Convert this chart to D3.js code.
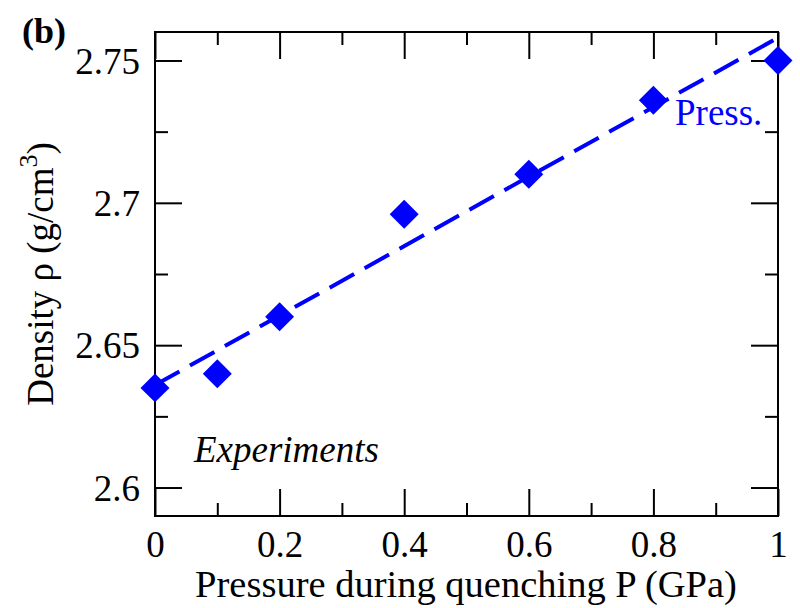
<!DOCTYPE html>
<html>
<head>
<meta charset="utf-8">
<script src="https://cdn.jsdelivr.net/npm/d3@7"></script>
<style>
  html, body { margin: 0; padding: 0; background: #fff; }
  svg text { font-family: "Liberation Serif", "Times New Roman", serif; }
</style>
</head>
<body>
<svg id="chart" width="800" height="608"></svg>
<script>
// Density of glass vs. pressure applied during quenching
const pressure = [0, 0.1, 0.2, 0.4, 0.6, 0.8, 1.0];
const density  = [2.635, 2.640, 2.660, 2.696, 2.710, 2.736, 2.750];
// linear fit end points
const fitP   = [0, 1];
const fitRho = [2.636, 2.758];

const xMajor = [0, 0.2, 0.4, 0.6, 0.8, 1];
const xMinor = [0.1, 0.3, 0.5, 0.7, 0.9];
const yMajor = [2.6, 2.65, 2.7, 2.75];
const yMinor = [2.625, 2.675, 2.725];

const svg = d3.select("#chart");
const L = 155, R = 778, T = 32, B = 516;

const x = d3.scaleLinear().domain([0, 1]).range([L, R]);
const y = d3.scaleLinear().domain([2.59, 2.76]).range([B, T]);

const fmtX = d => String(d);
const fmtY = d => String(+d.toFixed(2));

const majorLen = 27, minorLen = 13;

function addAxis(axis, tr) {
  const g = svg.append("g").attr("transform", tr).call(axis);
  g.select(".domain").remove();
  g.selectAll("line").attr("stroke", "#000").attr("stroke-width", 2);
  g.selectAll("text").attr("fill", "#000").style("font-size", "37px");
  return g;
}

// bottom axis
const gb = addAxis(d3.axisBottom(x).tickValues(xMajor).tickSize(-majorLen).tickFormat(fmtX),
        `translate(0,${B})`);
gb.selectAll("text").attr("y", 41).attr("dy", 0);
addAxis(d3.axisBottom(x).tickValues(xMinor).tickSize(-minorLen).tickFormat(""), `translate(0,${B})`);
// top axis
addAxis(d3.axisTop(x).tickValues(xMajor).tickSize(-majorLen).tickFormat(""), `translate(0,${T})`);
addAxis(d3.axisTop(x).tickValues(xMinor).tickSize(-minorLen).tickFormat(""), `translate(0,${T})`);
// left axis
const gl = addAxis(d3.axisLeft(y).tickValues(yMajor).tickSize(-majorLen).tickFormat(fmtY),
        `translate(${L},0)`);
gl.selectAll("text").attr("x", -15).attr("dy", "0.34em");
addAxis(d3.axisLeft(y).tickValues(yMinor).tickSize(-minorLen).tickFormat(""), `translate(${L},0)`);
// right axis
addAxis(d3.axisRight(y).tickValues(yMajor).tickSize(-majorLen).tickFormat(""), `translate(${R},0)`);
addAxis(d3.axisRight(y).tickValues(yMinor).tickSize(-minorLen).tickFormat(""), `translate(${R},0)`);

// frame
svg.append("rect")
  .attr("x", L).attr("y", T).attr("width", R - L).attr("height", B - T)
  .attr("fill", "none").attr("stroke", "#000").attr("stroke-width", 2);

// fit line
const line = d3.line().x((d, i) => x(fitP[i])).y(d => y(d));
svg.append("path")
  .datum(fitRho)
  .attr("d", line)
  .attr("fill", "none")
  .attr("stroke", "#0000ff")
  .attr("stroke-width", 4)
  .attr("stroke-dasharray", "28,12");

// diamonds
svg.append("g").selectAll("path")
  .data(pressure)
  .join("path")
  .attr("d", d3.symbol().type(d3.symbolSquare).size(420))
  .attr("transform", (d, i) => `translate(${x(d)},${y(density[i])}) rotate(45)`)
  .attr("fill", "#0000ff");

// texts
svg.append("text")
  .attr("x", 22).attr("y", 43)
  .style("font-size", "36px").style("font-weight", "bold")
  .text("(b)");

svg.append("text")
  .attr("x", 194).attr("y", 462)
  .style("font-size", "37px").style("font-style", "italic")
  .text("Experiments");

svg.append("text")
  .attr("x", 675).attr("y", 125)
  .attr("fill", "#0000ff")
  .style("font-size", "37px")
  .text("Press.");

// x label
svg.append("text")
  .attr("x", 466).attr("y", 597)
  .attr("text-anchor", "middle")
  .style("font-size", "38.5px")
  .text("Pressure during quenching P (GPa)");

// y label
const yl = svg.append("text")
  .attr("transform", `translate(53,274) rotate(-90)`)
  .attr("text-anchor", "middle")
  .style("font-size", "37px");
yl.append("tspan").text("Density ρ (g/cm");
yl.append("tspan").attr("dy", -16).style("font-size", "26px").text("3");
yl.append("tspan").attr("dy", 16).text(")");
</script>
</body>
</html>
